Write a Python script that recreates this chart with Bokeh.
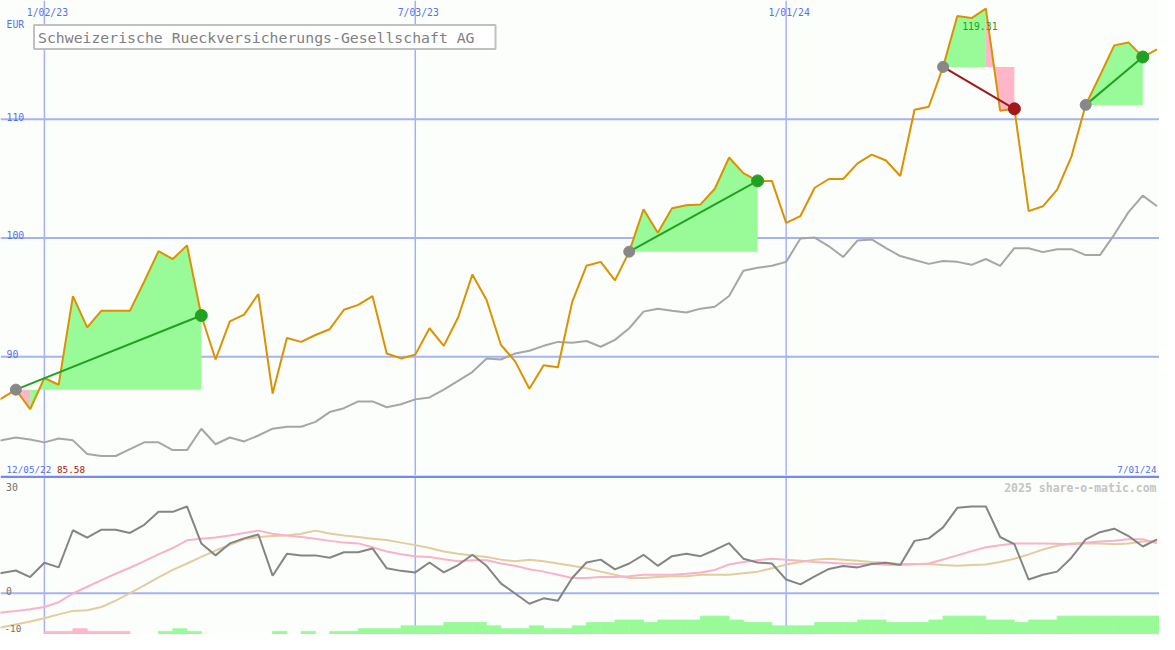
import numpy as np
import pandas as pd
from bokeh.plotting import figure
from bokeh.layouts import column
from bokeh.models import Span, Label, Range1d, ColumnDataSource
from bokeh.embed import file_html
from bokeh.resources import INLINE

# ---------------- data ----------------
dates = pd.date_range("2022-12-05", periods=83, freq="7D")

price = [86.00, 86.49, 87.23, 85.58, 88.21, 87.64, 95.11, 92.48, 93.88, 93.88,
         93.88, 96.34, 98.89, 98.23, 99.38, 93.47, 89.77, 92.98, 93.55, 95.28,
         86.90, 91.58, 91.25, 91.83, 92.32, 93.96, 94.37, 95.11, 90.27, 89.86,
         90.18, 92.40, 90.92, 93.31, 96.92, 94.78, 91.01, 89.61, 87.31, 89.28,
         89.12, 94.62, 97.66, 97.99, 96.43, 98.85, 102.42, 100.45, 102.51, 102.75,
         102.83, 104.15, 106.78, 105.46, 104.81, 104.81, 101.27, 101.85, 104.23, 104.97,
         104.97, 106.28, 107.02, 106.53, 105.22, 110.80, 111.05, 114.41, 118.69, 118.52,
         119.31, 110.72, 110.88, 102.26, 102.67, 104.07, 106.86, 111.21, 113.68, 116.22,
         116.47, 115.24, 115.89]

compare = [82.87, 82.96, 83.20, 83.04, 82.79, 83.12, 82.96, 81.81, 81.64, 81.64,
           82.22, 82.79, 82.79, 82.14, 82.14, 83.94, 82.63, 83.20, 82.87, 83.37,
           83.94, 84.11, 84.11, 84.52, 85.34, 85.67, 86.24, 86.24, 85.75, 86.00,
           86.41, 86.57, 87.23, 87.97, 88.71, 89.86, 89.77, 90.27, 90.51, 90.92,
           91.25, 91.17, 91.33, 90.84, 91.42, 92.40, 93.80, 94.05, 93.88, 93.72,
           94.05, 94.21, 95.11, 97.25, 97.49, 97.66, 97.99, 99.96, 100.04, 99.30,
           98.40, 99.79, 99.88, 99.14, 98.48, 98.15, 97.82, 98.07, 97.99, 97.74,
           98.23, 97.66, 99.14, 99.14, 98.81, 99.06, 99.06, 98.56, 98.56, 100.29,
           102.18, 103.57, 102.67]

osc_main = [4.5, 5.25, 5.9, 4.2, 7.9, 6.7, 16.3, 14.4, 16.45, 16.45,
            15.6, 17.7, 21.05, 21.05, 22.45, 12.9, 9.8, 12.9, 14.2, 15.2,
            4.55, 10.2, 9.8, 9.8, 9.2, 10.6, 10.6, 11.6, 6.45, 5.8,
            5.4, 7.95, 5.4, 7.3, 9.95, 7.1, 2.55, -0.05, -2.7, -1.3,
            -1.9, 3.95, 7.95, 8.7, 6.2, 7.7, 9.95, 7.1, 9.6, 10.2,
            9.6, 11.2, 12.95, 8.95, 7.95, 7.7, 3.55, 2.3, 4.4, 6.3,
            7.05, 6.7, 7.55, 7.9, 7.3, 13.55, 14.2, 17.05, 22.1, 22.45,
            22.45, 14.55, 12.7, 3.55, 4.8, 5.6, 9.2, 13.95, 15.8, 16.7,
            14.8, 12.1, 13.95]

osc_pink = [-5.25, -4.95, -4.55, -4.1, -3.55, -2.3, -0.05, 1.7, 3.4, 5.05,
            6.6, 8.3, 10.05, 11.7, 13.7, 14.1, 14.4, 14.95, 15.6, 16.2,
            15.4, 14.95, 14.55, 14.1, 13.55, 13.1, 12.9, 11.9, 10.8, 10.1,
            9.6, 9.4, 8.8, 8.3, 8.55, 8.55, 7.7, 7.1, 6.2, 5.6,
            4.8, 3.95, 3.95, 4.2, 4.2, 4.4, 4.8, 4.8, 4.8, 5.05,
            5.4, 6.05, 7.45, 8.1, 8.55, 8.95, 8.7, 8.4, 8.1, 7.9,
            7.7, 7.6, 7.55, 7.4, 7.3, 7.5, 7.7, 8.75, 9.8, 10.9,
            11.9, 12.4, 12.9, 12.9, 12.9, 12.8, 12.7, 13.05, 13.4, 13.6,
            13.95, 13.95, 12.9]

osc_tan = [-9.5, -8.8, -8.05, -7.3, -6.45, -5.45, -4.55, -4.4, -3.55, -1.9,
           0.05, 2.05, 4.1, 6.05, 7.7, 9.4, 11.05, 12.55, 13.95, 14.55,
           14.8, 14.95, 15.4, 16.2, 15.45, 14.95, 14.55, 14.1, 13.8, 13.1,
           12.45, 11.7, 10.8, 10.2, 9.8, 9.4, 8.7, 8.3, 8.7, 8.3,
           7.7, 7.1, 6.45, 5.6, 4.8, 3.95, 3.95, 4.2, 4.4, 4.4,
           4.8, 4.8, 4.8, 5.2, 5.6, 6.45, 7.45, 8.1, 8.7, 8.95,
           8.7, 8.4, 8.1, 7.9, 7.55, 7.55, 7.55, 7.3, 7.1, 7.3,
           7.45, 8.1, 8.95, 10.05, 11.3, 12.3, 12.9, 12.95, 12.9, 12.7,
           12.9, 13.4, 13.55]

bars = [0, 0, 0, 0, -0.8, -0.8, -1.5, -0.8, -0.8, -0.8,
        0, 0, 0.8, 1.5, 0.8, 0, 0, 0, 0, 0,
        0.8, 0, 0.8, 0, 0.8, 0.8, 1.5, 1.5, 1.5, 2.25,
        2.25, 2.25, 3.1, 3.1, 3.1, 2.25, 1.5, 1.5, 2.25, 1.5,
        1.5, 2.25, 3.1, 3.1, 3.75, 3.75, 3.1, 3.75, 3.75, 3.75,
        4.75, 4.75, 3.75, 3.1, 3.1, 2.25, 2.25, 2.25, 3.1, 3.1,
        3.1, 3.75, 3.75, 3.1, 3.1, 3.1, 3.75, 4.75, 4.75, 4.75,
        3.75, 3.75, 3.1, 3.75, 3.75, 4.75, 4.75, 4.75, 4.75, 4.75,
        4.75, 4.75, 4.75]

trade_entry = ["2022-12-19", "2023-10-16", "2024-03-18", "2024-05-27"]
trade_exit = ["2023-03-20", "2023-12-18", "2024-04-22", "2024-06-24"]

price_ticks = [110, 100, 90]
osc_ticks = [30, 0, -10]
month_lines = ["2023-01-02", "2023-07-03", "2024-01-01"]
title = "Schweizerische Rueckversicherungs-Gesellschaft AG"
currency = "EUR"
credit = "2025 share-o-matic.com"

# ---------------- style ----------------
W = 1159
H_TOP = 475
H_BOT = 159
BG = "#fbfefb"
GRID = "#a6b3f3"
SEP = "#7589ee"
BLUE_TXT = "#5670f0"
GREEN = "#98fb98"
PINK = "#ffb6c8"
WIN = "#22a022"
LOSS = "#a01818"
FONT = "DejaVu Sans Mono"
DAY_MS = 86400000.0


def ms(s):
    return pd.Timestamp(s).value / 1e6


x = [v / 1e6 for v in dates.asi8]
idx = {d.strftime("%Y-%m-%d"): i for i, d in enumerate(dates)}

px_per_day = 376.0 / 182.0
x_start = ms("2023-01-02") - 44.5 / px_per_day * DAY_MS
x_end = x_start + 1175.0 / px_per_day * DAY_MS
xr = Range1d(x_start, x_end)


def make_fig(h, y0, y1):
    f = figure(width=W, height=h, x_range=xr, y_range=Range1d(y0, y1),
               output_backend="svg", toolbar_location=None,
               x_axis_location=None, y_axis_location=None, min_border=0,
               background_fill_color=BG, border_fill_color=BG,
               outline_line_color=None)
    f.grid.visible = False
    return f


def lab(f, text, x, y, dx=0, dy=0, color=BLUE_TXT, size="9.8px", align="left",
        baseline="alphabetic", style="normal", **kw):
    f.add_layout(Label(x=x, y=y, x_offset=dx, y_offset=dy, text=text,
                       text_color=color, text_font=FONT, text_font_size=size,
                       text_align=align, text_baseline=baseline,
                       text_font_style=style, **kw))


# ---------------- top panel ----------------
top = make_fig(H_TOP, 80, 120)
for t in price_ticks:
    top.add_layout(Span(location=t, dimension="width", line_color=GRID,
                        line_width=2, level="underlay"))
for d in month_lines:
    top.add_layout(Span(location=ms(d), dimension="height", line_color=GRID,
                        line_width=1.5, level="underlay"))

# trade fills: runs of segments coloured by whether the segment ends above entry
fx, fy, fc = [], [], []
for e, s in zip(trade_entry, trade_exit):
    i0, i1 = idx[e], idx[s]
    ep = price[i0]
    segs = [(j, GREEN if price[j + 1] >= ep else PINK) for j in range(i0, i1)]
    run_start = 0
    for k in range(1, len(segs) + 1):
        if k == len(segs) or segs[k][1] != segs[run_start][1]:
            j0 = segs[run_start][0]
            j1 = segs[k - 1][0] + 1
            fx.append([x[j0]] + x[j0:j1 + 1] + [x[j1]])
            fy.append([ep] + price[j0:j1 + 1] + [ep])
            fc.append(segs[run_start][1])
            run_start = k
top.patches(xs="xs", ys="ys", fill_color="c", line_color=None,
            source=ColumnDataSource(dict(xs=fx, ys=fy, c=fc)))

top.line(x, compare, line_color="#a6a6a6", line_width=2)
top.line(x, price, line_color="#dc9200", line_width=2)

ex0 = [x[idx[e]] for e in trade_entry]
ey0 = [price[idx[e]] for e in trade_entry]
ex1 = [x[idx[s]] for s in trade_exit]
ey1 = [price[idx[s]] for s in trade_exit]
tc = [WIN if b >= a else LOSS for a, b in zip(ey0, ey1)]
top.segment(x0="x0", y0="y0", x1="x1", y1="y1", line_color="c", line_width=2,
            source=ColumnDataSource(dict(x0=ex0, y0=ey0, x1=ex1, y1=ey1, c=tc)))
top.scatter(ex0, ey0, size=11, color="#888888")
top.scatter(x="x", y="y", size=12, color="c",
            source=ColumnDataSource(dict(x=ex1, y=ey1, c=tc)))

# texts top
for t in price_ticks:
    lab(top, str(t), x_start, t, dx=6, dy=2.6)
lab(top, currency, x_start, 120, dx=6, dy=-24.4)
for d in month_lines:
    lab(top, pd.Timestamp(d).strftime("%-m/%d/%y"), ms(d), 120, dx=3, dy=-12.4,
        align="center")
imax = int(np.argmax(price))
imin = int(np.argmin(price))
lab(top, f"{price[imax]:.2f}", x[imax], price[imax], dx=-6, dy=-17.2,
    color=WIN, align="center")
lab(top, dates[0].strftime("%m/%d/%y"), x_start, 80, dx=6, dy=6, size="9.3px")
lab(top, f"{price[imin]:.2f}", x_start, 80, dx=56.5, dy=6, color=LOSS, size="9.3px")
lab(top, dates[-1].strftime("%-m/%d/%y"), x_end, 80, dx=-3, dy=6, align="right",
    size="9.3px")

try:
    pad = dict(left=4, right=21, top=4, bottom=3)
    top.add_layout(Label(x=x_start, y=120, x_offset=33.5, y_offset=-24.5,
                         text=title, text_color="#808080", text_font=FONT,
                         text_font_size="14.8px", text_align="left",
                         text_baseline="top", border_line_color="#c0c0c0",
                         border_line_width=2, background_fill_color="white",
                         padding=pad))
except Exception:
    top.add_layout(Label(x=x_start, y=120, x_offset=33.5, y_offset=-24.5,
                         text=title, text_color="#808080", text_font=FONT,
                         text_font_size="14.8px", text_align="left",
                         text_baseline="top", border_line_color="#c0c0c0",
                         border_line_width=2, background_fill_color="white",
                         padding=4))

# ---------------- bottom panel ----------------
b0, b1 = -10.65, 30.45
bot = make_fig(H_BOT, b0, b1)
bot.add_layout(Span(location=0, dimension="width", line_color=GRID,
                    line_width=2, level="underlay"))
for d in month_lines:
    bot.add_layout(Span(location=ms(d), dimension="height", line_color=GRID,
                        line_width=1.5, level="underlay"))
bot.add_layout(Span(location=30.15, dimension="width", line_color=SEP,
                    line_width=2.5))

nz = [i for i in range(len(bars)) if bars[i] != 0]
bl = [x[i] for i in nz]
br = [x[i] + 7 * DAY_MS for i in nz]
bt = [b0 + abs(bars[i]) for i in nz]
bc = [GREEN if bars[i] > 0 else PINK for i in nz]
bot.quad(left="l", right="r", bottom=b0, top="t", fill_color="c", line_color="c",
         line_width=0.8, source=ColumnDataSource(dict(l=bl, r=br, t=bt, c=bc)))

bot.line(x, osc_tan, line_color="#e3cc9e", line_width=2)
bot.line(x, osc_pink, line_color="#f9b2c8", line_width=2)
bot.line(x, osc_main, line_color="#858585", line_width=2)

lab(bot, str(osc_ticks[0]), x_start, b1, dx=5.5, dy=-11.9, color="#707070")
lab(bot, str(osc_ticks[1]), x_start, osc_ticks[1], dx=5.5, dy=2.4, color="#707070")
lab(bot, str(osc_ticks[2]), x_start, osc_ticks[2], dx=4, dy=3.4, color="#707070",
    size="9.3px")
lab(bot, credit, x_end, b1, dx=-3, dy=-12.7, color="#c4c4c4", size="11.5px",
    align="right", style="bold")

layout = column(top, bot, spacing=0)
open("out.html", "w").write(file_html(layout, INLINE))
